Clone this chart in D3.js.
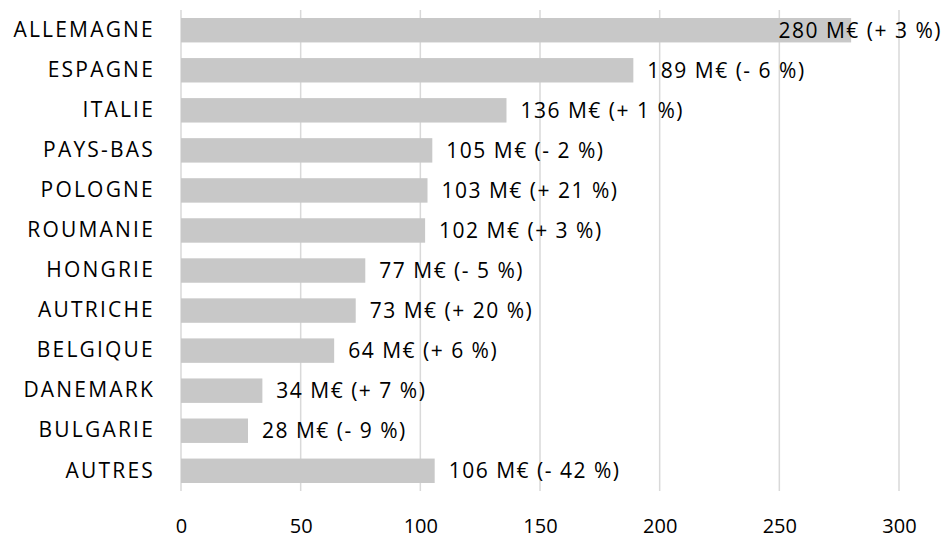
<!DOCTYPE html>
<html>
<head>
<meta charset="utf-8">
<script src="https://cdn.jsdelivr.net/npm/d3@7"></script>
<style>
  body { margin: 0; background: #fff; }
  svg text { font-family: "Open Sans", sans-serif; fill: #000; }
</style>
</head>
<body>
<svg id="chart" width="944" height="540"></svg>
<script>
// pays (ordre de haut en bas)
const countries = ["ALLEMAGNE", "ESPAGNE", "ITALIE", "PAYS-BAS", "POLOGNE", "ROUMANIE",
    "HONGRIE", "AUTRICHE", "BELGIQUE", "DANEMARK", "BULGARIE", "AUTRES"];
// valeurs en M€
const values = [280, 189, 136, 105, 103, 102, 77, 73, 64, 34, 28, 106];
// évolution en %
const changes = ["+ 3", "- 6", "+ 1", "- 2", "+ 21", "+ 3", "- 5", "+ 20", "+ 6", "+ 7", "- 9", "- 42"];
const xTicks = [0, 50, 100, 150, 200, 250, 300];

const svg = d3.select("#chart");
const margin = { top: 10, right: 44, bottom: 49, left: 181 };
const width = 944 - margin.left - margin.right;
const height = 540 - margin.top - margin.bottom;
const fontFamily = "'Open Sans', sans-serif";
const fontSize = "21px";

const g = svg.append("g").attr("transform", `translate(${margin.left},${margin.top})`);

const x = d3.scaleLinear().domain([0, 300]).range([0, 718]);
const y = d3.scaleBand().domain(countries).range([0, height]).paddingInner(0.39).paddingOuter(0.2);

// grille verticale
g.selectAll(".grid")
    .data(xTicks)
    .join("line")
    .attr("class", "grid")
    .attr("x1", d => x(d))
    .attr("x2", d => x(d))
    .attr("y1", 0)
    .attr("y2", height)
    .attr("stroke", "#d9d9d9")
    .attr("stroke-width", 1.5);

// barres
g.selectAll(".bar")
    .data(values)
    .join("rect")
    .attr("class", "bar")
    .attr("x", x(0))
    .attr("y", (d, i) => y(countries[i]))
    .attr("width", d => x(d))
    .attr("height", y.bandwidth())
    .attr("fill", "#c8c8c8");

// axe x (texte seulement)
const xAxis = g.append("g")
    .attr("transform", `translate(0,${height})`)
    .call(d3.axisBottom(x).tickValues(xTicks).tickSize(0).tickPadding(28));
xAxis.select(".domain").remove();
xAxis.selectAll("text")
    .style("font-size", "20px")
    .style("font-family", fontFamily)
    .attr("fill", "#000");

// axe y
const yAxis = g.append("g")
    .call(d3.axisLeft(y).tickSize(0).tickPadding(26));
yAxis.select(".domain").remove();
yAxis.selectAll("text")
    .style("font-size", fontSize)
    .style("font-family", fontFamily)
    .style("letter-spacing", "2.2px")
    .attr("fill", "#000");

// étiquettes de valeur
const maxRight = 944 - margin.left - 2;
g.selectAll(".label")
    .data(values)
    .join("text")
    .attr("class", "label")
    .attr("y", (d, i) => y(countries[i]) + y.bandwidth() / 2)
    .attr("dy", "0.35em")
    .style("font-size", fontSize)
    .style("letter-spacing", "1.5px")
    .text((d, i) => `${d} M€ (${changes[i]} %)`)
    .attr("x", function (d) {
        const w = this.getComputedTextLength();
        return Math.min(x(d) + 14, maxRight - w);
    });
</script>
</body>
</html>
